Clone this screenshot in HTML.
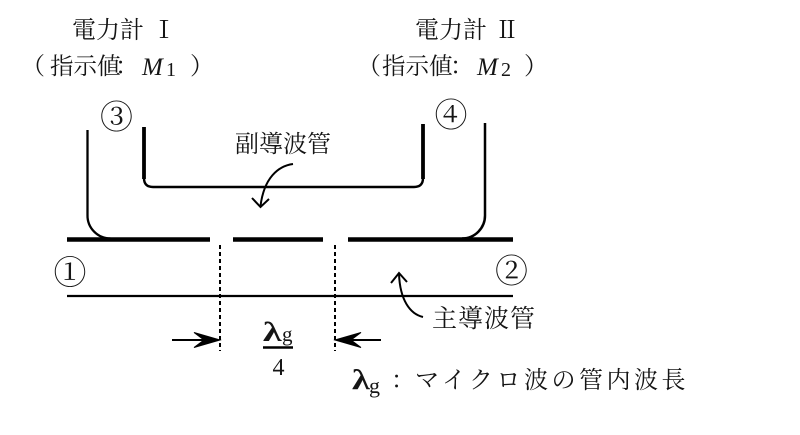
<!DOCTYPE html>
<html>
<head>
<meta charset="utf-8">
<style>
html,body{margin:0;padding:0;background:#fff;}
svg{display:block;}
.cj{font-family:"Liberation Serif","Noto Serif CJK SC","Noto Sans CJK JP",serif;fill:#151515;}
.lt{font-family:"Liberation Serif",serif;fill:#151515;}
</style>
</head>
<body>
<svg width="800" height="435" viewBox="0 0 800 435" xmlns="http://www.w3.org/2000/svg">
  <!-- top labels left -->
  <text class="cj" x="72" y="38" font-size="24">電力計</text>
  <text class="cj" x="164" y="38" font-size="24" text-anchor="middle">Ⅰ</text>
  <text class="cj" x="45" y="74" font-size="24" text-anchor="end">（</text>
  <text class="cj" x="50" y="74" font-size="23.5">指示値</text>
  <text class="cj" x="127" y="74" font-size="24" text-anchor="middle">：</text>
  <text class="lt" x="142" y="75" font-size="25" font-style="italic">M</text>
  <text class="lt" x="166" y="76" font-size="20">1</text>
  <text class="cj" x="190" y="74" font-size="24">）</text>

  <!-- top labels right -->
  <text class="cj" x="415" y="38" font-size="24">電力計</text>
  <text class="cj" x="507" y="38" font-size="24" text-anchor="middle">Ⅱ</text>
  <text class="cj" x="381" y="74" font-size="24" text-anchor="end">（</text>
  <text class="cj" x="382" y="74" font-size="23.5">指示値</text>
  <text class="cj" x="462" y="74" font-size="24" text-anchor="middle">：</text>
  <text class="lt" x="477" y="75" font-size="25" font-style="italic">M</text>
  <text class="lt" x="501" y="76" font-size="20">2</text>
  <text class="cj" x="524" y="74" font-size="24">）</text>

  <!-- port numbers -->
  <text class="cj" x="116.5" y="128.5" font-size="33" text-anchor="middle">③</text>
  <text class="cj" x="451" y="126.5" font-size="33" text-anchor="middle">④</text>
  <text class="cj" x="70" y="284" font-size="33" text-anchor="middle">①</text>
  <text class="cj" x="511.5" y="282.5" font-size="33" text-anchor="middle">②</text>

  <g fill="none" stroke="#000" stroke-linecap="butt">
    <!-- main guide outer walls -->
    <path d="M87.5 130 V215 A23 23 0 0 0 110.5 238.5" stroke-width="2.3"/>
    <path d="M485 123 V215 A23 23 0 0 1 462 238.5" stroke-width="2.5"/>
    <!-- main guide top wall segments -->
    <line x1="67" y1="239.5" x2="210" y2="239.5" stroke-width="4.5"/>
    <line x1="233" y1="239.5" x2="323" y2="239.5" stroke-width="4.5"/>
    <line x1="348" y1="239.5" x2="513" y2="239.5" stroke-width="4.5"/>
    <!-- main guide bottom -->
    <line x1="67" y1="296" x2="513" y2="296" stroke-width="2.3"/>
    <!-- sub guide -->
    <line x1="144" y1="127" x2="144" y2="179" stroke-width="3.8"/>
    <line x1="423" y1="124" x2="423" y2="179" stroke-width="3.8"/>
    <path d="M144 178 Q144 187 153 187 H414 Q423 187 423 178" stroke-width="2.4"/>
    <!-- dashed lines -->
    <line x1="220" y1="245" x2="220" y2="351" stroke-width="2" stroke-dasharray="4 3"/>
    <line x1="335" y1="245" x2="335" y2="351" stroke-width="2" stroke-dasharray="4 3"/>
    <!-- dimension arrows -->
    <line x1="172" y1="340" x2="214" y2="340" stroke-width="2"/>
    <line x1="341" y1="340" x2="381" y2="340" stroke-width="2"/>
    <!-- fraction bar -->
    <line x1="263" y1="347.5" x2="293" y2="347.5" stroke-width="2.4"/>
    <!-- label arrows -->
    <path d="M293 164 C278 166 264 178 260.5 206" stroke-width="2"/>
    <path d="M252 198 L260.5 207 L269 199" stroke-width="2"/>
    <path d="M423 317 C410 314 400 300 399 274" stroke-width="2"/>
    <path d="M391 283 L399 273 L407 282" stroke-width="2"/>
  </g>
  <!-- arrowheads -->
  <path d="M220 340 L194 332.5 L204 340 L194 347.5 Z" fill="#000" stroke="#000" stroke-width="1" stroke-linejoin="miter"/>
  <path d="M335 340 L361 332.5 L351 340 L361 347.5 Z" fill="#000" stroke="#000" stroke-width="1" stroke-linejoin="miter"/>

  <!-- sub guide / main guide labels -->
  <text class="cj" x="235" y="152" font-size="24">副導波管</text>
  <text class="cj" x="432" y="327" font-size="25" letter-spacing="1">主導波管</text>

  <!-- lambda_g / 4 -->
  <text class="lt" transform="translate(263,341) scale(1.4,1)" font-size="27" font-weight="bold">λ</text>
  <text class="lt" x="282" y="341" font-size="21">g</text>
  <text class="lt" x="278.5" y="375" font-size="24" text-anchor="middle">4</text>

  <!-- legend -->
  <text class="lt" transform="translate(352,389) scale(1.3,1)" font-size="28" font-weight="bold">λ</text>
  <text class="lt" x="369" y="393" font-size="22">g</text>
  <text class="cj" x="403" y="388" font-size="24" text-anchor="middle">：</text>
  <text class="cj" x="415" y="388" font-size="24" letter-spacing="3.5">マイクロ波の管内波長</text>
</svg>
</body>
</html>
